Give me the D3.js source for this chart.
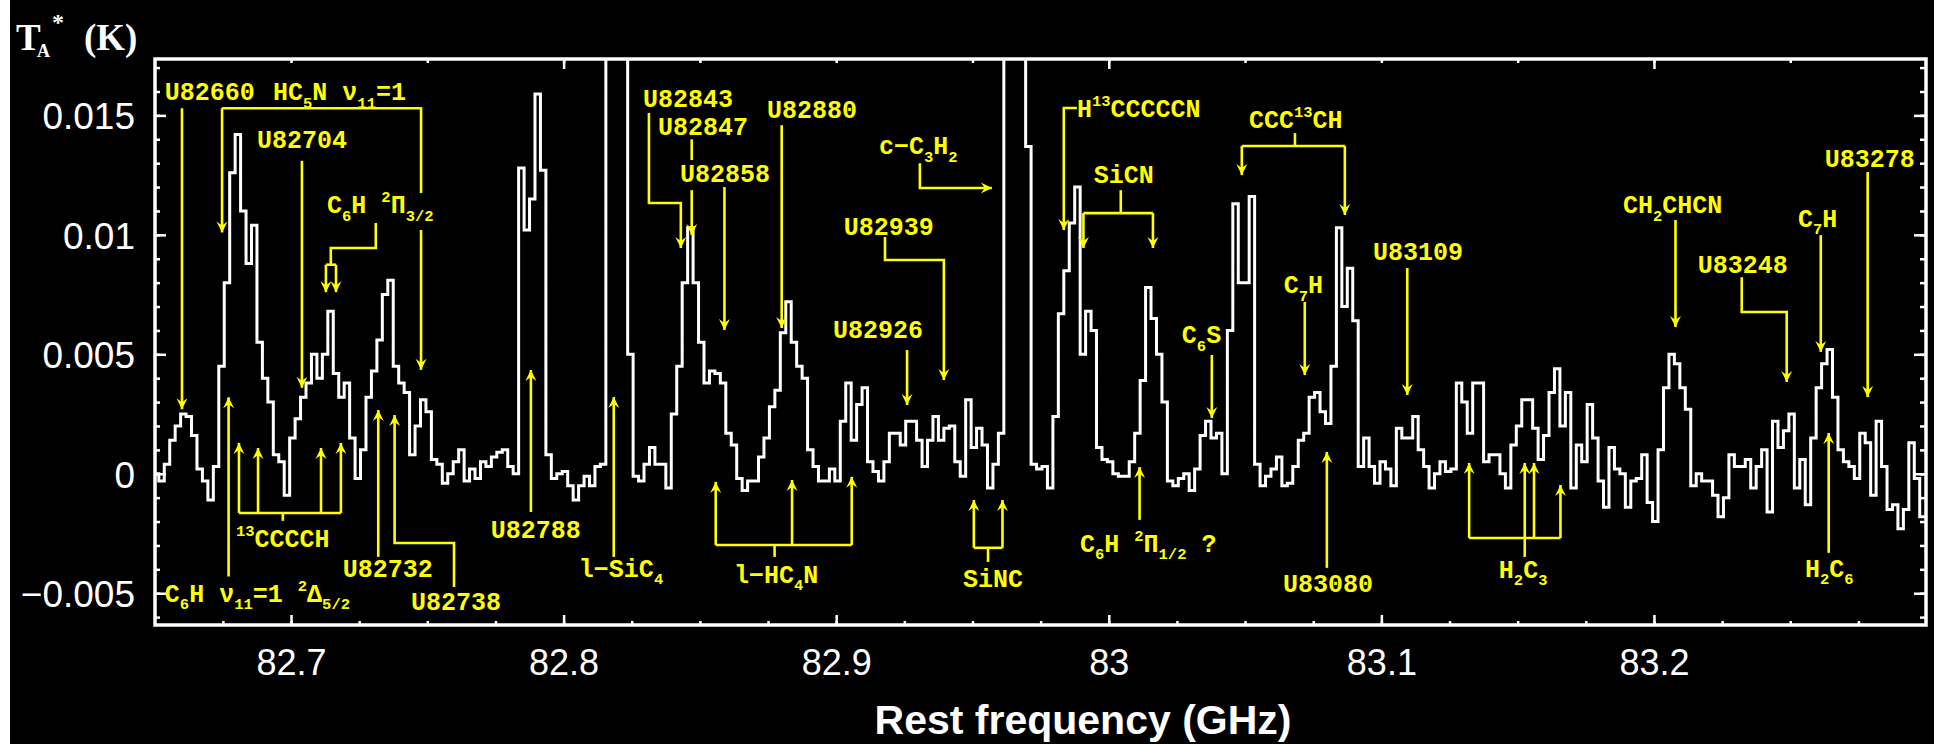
<!DOCTYPE html>
<html>
<head>
<meta charset="utf-8">
<title>Spectrum 82.65 - 83.30 GHz</title>
<script src="https://cdn.jsdelivr.net/npm/d3@7/dist/d3.min.js"></script>
<style>
  html, body { margin: 0; padding: 0; background: #000; overflow: hidden; }
  svg { display: block; }
  text { white-space: pre; }
</style>
</head>
<body>
<svg id="Spectrum"></svg>
<script>
'use strict';

// frequency grid of the spectrum
const freqStart = 82.6495;   // GHz, left edge of first channel
const chanWidth = 0.002;     // GHz per channel

// T_A* per channel in mK (the two off-scale lines are set to 60)
const intensity = [
    0.0, -0.3, 0.4, 1.4, 2.0, 2.5, 2.4, 1.6, 0.2, -0.3,
    -1.1, 0.3, 4.5, 8.0, 12.6, 14.2, 11.0, 8.8, 10.4, 5.5,
    4.0, 3.0, 0.8, 0.5, -0.9, 1.5, 2.3, 3.2, 3.8, 5.0,
    4.0, 5.0, 6.8, 4.2, 3.2, 3.8, 1.5, -0.2, 1.0, 3.2,
    4.3, 5.6, 7.5, 8.1, 4.5, 3.8, 3.4, 0.8, 2.0, 3.1,
    2.6, 0.6, 0.4, -0.4, 0.0, 0.5, 1.0, -0.3, 0.2, -0.2,
    0.5, 0.3, 0.7, 0.9, 1.0, 0.3, 0.0, 12.8, 10.2, 11.5,
    15.9, 12.7, 0.8, -0.2, 0.0, 0.1, -0.5, -1.1, -0.5, -0.1,
    -0.5, 0.3, 0.4, 60, 60, 60, 60, 5.0, -0.1, -0.3,
    0.4, 1.1, 0.4, 0.4, -0.6, 2.5, 4.5, 8.0, 10.3, 8.0,
    5.5, 3.8, 4.3, 4.2, 3.8, 1.7, 1.2, -0.2, -0.7, -0.3,
    -0.3, 0.7, 1.5, 2.8, 3.5, 5.9, 7.2, 5.5, 4.5, 4.0,
    1.0, 0.3, -0.3, -0.3, 0.2, -0.3, 2.2, 3.8, 1.4, 2.9,
    3.6, 0.5, 0.1, -0.3, 0.5, 1.7, 1.7, 1.2, 2.2, 2.2,
    1.4, 0.3, 1.4, 2.4, 1.4, 1.9, 2.0, 0.5, -0.1, 3.1,
    1.1, 1.9, 1.2, -0.6, 0.4, 1.7, 60, 60, 60, 60,
    13.7, 0.4, 0.2, 0.3, -0.6, 2.4, 6.7, 8.5, 10.5, 12.0,
    5.0, 6.8, 6.0, 1.1, 0.6, 0.5, 0.0, -0.1, -0.1, 0.5,
    1.7, 3.9, 7.8, 6.5, 5.0, 3.0, -0.3, -0.5, -0.2, 0.0,
    -0.7, 0.2, 1.6, 2.2, 1.5, 1.7, 0.0, 6.0, 11.3, 8.0,
    8.0, 11.6, 0.4, -0.5, -0.1, 0.2, 0.7, -0.5, -0.4, 0.3,
    1.4, 1.7, 3.2, 3.4, 2.6, 2.1, 4.5, 10.3, 7.0, 8.6,
    6.4, 0.3, 1.5, 0.3, -0.4, 0.5, 0.2, -0.5, 1.9, 1.5,
    1.5, 2.4, 1.0, 0.3, -0.6, 0.0, 0.5, 0.1, 0.2, 3.8,
    3.0, 1.7, 3.8, 3.8, 0.5, 0.8, 0.8, 0.0, -0.6, 1.2,
    2.0, 3.1, 3.1, 1.9, 0.6, 1.6, 3.4, 4.4, 2.0, 3.4,
    -0.6, 1.2, 0.5, 2.9, 1.5, -0.3, -1.4, 1.1, 0.2, 0.0,
    -1.4, -0.3, -0.2, 0.8, -1.2, -2.0, 1.0, 3.6, 5.0, 4.6,
    3.6, 2.7, -0.5, 0.0, -0.3, -0.3, -0.9, -1.8, -1.0, 0.8,
    0.3, 0.3, 0.6, -0.6, 0.3, 1.0, -1.6, 2.2, 1.1, 1.8,
    2.5, -0.6, 0.6, -1.3, 1.5, 3.6, 4.6, 5.2, 3.2, 1.0,
    0.5, 0.3, -0.2, 1.7, 1.3, -0.9, 2.2, 0.3, -1.5, -1.3,
    -2.3, -1.5, 1.3, -0.2, -1.8
];

const xMajorTicks = [82.7, 82.8, 82.9, 83.0, 83.1, 83.2];
const xTickLabels = ["82.7", "82.8", "82.9", "83", "83.1", "83.2"];
const yMajorTicks = [-0.005, 0, 0.005, 0.01, 0.015];
const yTickLabels = ["\u22120.005", "0", "0.005", "0.01", "0.015"];

// line identifications, all points in (GHz, mK)
// "at" = start of label baseline, "lines" = plain leaders, "arrows" = leaders ending in an arrow head
const lineLabels = [
    { text: "U82660", at: [82.6537, 15.64], arrows: [[[82.660, 15.3], [82.660, 2.7]]] },
    { text: "HC_5N ν_{11}=1", at: [82.6934, 15.64],
      lines: [[[82.6747, 15.3], [82.7477, 15.3], [82.7477, 11.75]]],
      arrows: [[[82.6747, 15.3], [82.6747, 10.1]], [[82.7477, 10.2], [82.7477, 4.35]]] },
    { text: "U82704", at: [82.6875, 13.63], arrows: [[[82.704, 13.1], [82.704, 3.6]]] },
    { text: "C_6H ^2Π_{3/2}", at: [82.7132, 10.91],
      lines: [[[82.7311, 10.5], [82.7311, 9.45], [82.7146, 9.45], [82.7146, 8.75]], [[82.7128, 8.75], [82.7165, 8.75]]],
      arrows: [[[82.7128, 8.75], [82.7128, 7.6]], [[82.7165, 8.75], [82.7165, 7.6]]] },
    { text: "C_6H ν_{11}=1 ^2Δ_{5/2}", at: [82.6537, -5.36], arrows: [[[82.6771, -4.3], [82.6771, 3.2]]] },
    { text: "^{13}CCCCH", at: [82.6798, -3.06],
      lines: [[[82.6809, -1.64], [82.7183, -1.64]], [[82.6970, -1.64], [82.6970, -1.97]]],
      arrows: [[[82.6809, -1.64], [82.6809, 1.29]], [[82.6879, -1.64], [82.6879, 1.08]],
               [[82.7110, -1.64], [82.7110, 1.08]], [[82.7183, -1.64], [82.7183, 1.29]]] },
    { text: "U82732", at: [82.7190, -4.32], arrows: [[[82.732, -3.48], [82.732, 2.67]]] },
    { text: "U82738", at: [82.7440, -5.70], arrows: [[[82.7598, -4.74], [82.7598, -2.9], [82.738, -2.9], [82.738, 2.46]]] },
    { text: "U82788", at: [82.7733, -2.69], arrows: [[[82.788, -1.6], [82.788, 4.34]]] },
    { text: "l−SiC_4", at: [82.8056, -4.32], arrows: [[[82.8184, -3.48], [82.8184, 3.21]]] },
    { text: "l−HC_4N", at: [82.8625, -4.57],
      lines: [[[82.8558, -2.98], [82.9057, -2.98]], [[82.8774, -2.98], [82.8774, -3.48]]],
      arrows: [[[82.8558, -2.98], [82.8558, -0.34]], [[82.8838, -2.98], [82.8838, -0.26]], [[82.9057, -2.98], [82.9057, -0.13]]] },
    { text: "SiNC", at: [82.9465, -4.74],
      lines: [[[82.9505, -3.1], [82.961, -3.1]], [[82.9557, -3.1], [82.9557, -3.69]]],
      arrows: [[[82.9505, -3.1], [82.9505, -1.1]], [[82.961, -3.1], [82.961, -1.1]]] },
    { text: "U82843", at: [82.8291, 15.35], arrows: [[[82.8313, 15.1], [82.8313, 11.33], [82.843, 11.33], [82.843, 9.45]]] },
    { text: "U82847", at: [82.8346, 14.18], lines: [[[82.847, 14.0], [82.847, 13.13]]], arrows: [[[82.847, 11.87], [82.847, 9.99]]] },
    { text: "U82858", at: [82.8427, 12.21], arrows: [[[82.859, 12.0], [82.859, 6.02]]] },
    { text: "U82880", at: [82.8746, 14.89], arrows: [[[82.880, 14.59], [82.880, 6.1]]] },
    { text: "c−C_3H_2", at: [82.9157, 13.38], arrows: [[[82.9307, 13.0], [82.9307, 11.96], [82.9571, 11.96]]] },
    { text: "U82939", at: [82.9028, 9.99], arrows: [[[82.9179, 9.91], [82.9179, 8.95], [82.9395, 8.95], [82.9395, 3.92]]] },
    { text: "U82926", at: [82.8988, 5.68], arrows: [[[82.926, 5.18], [82.926, 2.88]]] },
    { text: "H^{13}CCCCCN", at: [82.9883, 14.92], arrows: [[[82.9883, 15.31], [82.9835, 15.31], [82.9835, 10.2]]] },
    { text: "SiCN", at: [82.9945, 12.17],
      lines: [[[83.0044, 11.87], [83.0044, 10.91]], [[82.9907, 10.91], [83.0162, 10.91]]],
      arrows: [[[82.9907, 10.91], [82.9907, 9.45]], [[83.0162, 10.91], [83.0162, 9.45]]] },
    { text: "CCC^{13}CH", at: [83.0514, 14.46],
      lines: [[[83.0683, 14.26], [83.0683, 13.72]], [[83.0488, 13.72], [83.0866, 13.72]]],
      arrows: [[[83.0488, 13.72], [83.0488, 12.5]], [[83.0866, 13.72], [83.0866, 10.83]]] },
    { text: "C_7H", at: [83.0642, 7.56], arrows: [[[83.0719, 7.19], [83.0719, 4.13]]] },
    { text: "U83109", at: [83.0969, 8.95], arrows: [[[83.1095, 8.61], [83.1095, 3.3]]] },
    { text: "C_6S", at: [83.0268, 5.47], arrows: [[[83.0378, 4.97], [83.0378, 2.33]]] },
    { text: "C_6H ^2Π_{1/2} ?", at: [82.9894, -3.27], arrows: [[[83.0113, -1.93], [83.0113, 0.28]]] },
    { text: "U83080", at: [83.0639, -4.95], arrows: [[[83.080, -3.94], [83.080, 0.91]]] },
    { text: "H_2C_3", at: [83.1431, -4.36],
      lines: [[[83.1322, -2.69], [83.1657, -2.69]], [[83.1526, -2.69], [83.1526, -3.48]]],
      arrows: [[[83.1322, -2.69], [83.1322, 0.45]], [[83.1526, -2.69], [83.1526, 0.45]],
               [[83.156, -2.69], [83.156, 0.45]], [[83.1657, -2.69], [83.1657, -0.47]]] },
    { text: "CH_2CHCN", at: [83.1886, 10.91], arrows: [[[83.2079, 10.62], [83.2079, 6.14]]] },
    { text: "U83248", at: [83.2161, 8.4], arrows: [[[83.2322, 8.23], [83.2322, 6.77], [83.2487, 6.77], [83.2487, 3.84]]] },
    { text: "C_7H", at: [83.2528, 10.33], arrows: [[[83.2612, 9.99], [83.2612, 5.1]]] },
    { text: "U83278", at: [83.2627, 12.84], arrows: [[[83.2784, 12.63], [83.2784, 3.21]]] },
    { text: "H_2C_6", at: [83.2554, -4.32], arrows: [[[83.2641, -3.31], [83.2641, 1.71]]] }
];

const yellow = "#ffff00";
const labelFont = "'Liberation Mono', 'DejaVu Sans Mono', monospace";
const tickFont = "'Liberation Sans', Arial, sans-serif";

function getChartConfig() {
    let margin = { top: 59, right: 8, bottom: 119, left: 155 },
        width = 1934 - margin.left - margin.right,
        height = 744 - margin.top - margin.bottom;

    let svg = d3.select("#Spectrum")
        .attr("width", width + margin.left + margin.right)
        .attr("height", height + margin.top + margin.bottom);

    svg.append("rect")
        .attr("width", width + margin.left + margin.right)
        .attr("height", height + margin.top + margin.bottom)
        .attr("fill", "#000");

    // white strip at the left edge of the scanned figure
    svg.append("rect")
        .attr("x", 0).attr("y", 0)
        .attr("width", 10).attr("height", height + margin.top + margin.bottom)
        .attr("fill", "#fff");

    let container = svg.append("g")
        .attr("transform", "translate(" + margin.left + "," + margin.top + ")");

    return { svg, width, height, container, margin };
}

function getScales(config) {
    let { width, height } = config;
    let xScale = d3.scaleLinear().domain([82.6501, 83.2998]).range([0, width]);
    let yScale = d3.scaleLinear().domain([-0.00633, 0.01736]).range([height, 0]);
    return { xScale, yScale };
}

function styleTicks(g) {
    g.select(".domain").remove();
    g.selectAll(".tick line").attr("stroke", "#fff").attr("stroke-width", 2.5);
}

function drawAxes(config, scales) {
    let { container, width, height, svg } = config;
    let { xScale, yScale } = scales;

    let xMinor = d3.range(82.675, 83.29, 0.025);
    let xTop = d3.range(82.7, 83.29, 0.05);
    let xTopMajor = [82.8, 83.0, 83.2];
    let yMinor = d3.range(-6, 18).map(d => d / 1000);

    // bottom
    container.append("g")
        .attr("transform", "translate(0," + height + ")")
        .call(d3.axisBottom(xScale).tickValues(xMinor).tickSize(-4).tickFormat(""))
        .call(styleTicks);

    container.append("g")
        .attr("transform", "translate(0," + height + ")")
        .call(d3.axisBottom(xScale).tickValues(xMajorTicks).tickSize(-10)
            .tickFormat((d, i) => xTickLabels[i]))
        .call(styleTicks)
        .selectAll("text")
        .attr("y", 50).attr("dy", null)
        .attr("fill", "#fff")
        .style("font-family", tickFont)
        .style("font-size", "36px");

    // top
    container.append("g")
        .call(d3.axisTop(xScale).tickValues(xTop).tickSize(-4).tickFormat(""))
        .call(styleTicks);
    container.append("g")
        .call(d3.axisTop(xScale).tickValues(xTopMajor).tickSize(-10).tickFormat(""))
        .call(styleTicks);

    // left
    container.append("g")
        .call(d3.axisLeft(yScale).tickValues(yMinor).tickSize(-5).tickFormat(""))
        .call(styleTicks);

    container.append("g")
        .call(d3.axisLeft(yScale).tickValues(yMajorTicks).tickSize(-11)
            .tickFormat((d, i) => yTickLabels[i]))
        .call(styleTicks)
        .selectAll("text")
        .attr("x", -20).attr("dy", "0.36em")
        .attr("fill", "#fff")
        .style("font-family", tickFont)
        .style("font-size", "37px");

    // right
    container.append("g")
        .attr("transform", "translate(" + width + ",0)")
        .call(d3.axisRight(yScale).tickValues(yMinor).tickSize(-6).tickFormat(""))
        .call(styleTicks);
    container.append("g")
        .attr("transform", "translate(" + width + ",0)")
        .call(d3.axisRight(yScale).tickValues(yMajorTicks).tickSize(-12).tickFormat(""))
        .call(styleTicks);

    // frame
    container.append("rect")
        .attr("width", width).attr("height", height)
        .attr("fill", "none")
        .attr("stroke", "#fff")
        .attr("stroke-width", 3.5);

    // axis titles
    container.append("text")
        .attr("x", 928).attr("y", 675)
        .attr("text-anchor", "middle")
        .attr("fill", "#fff")
        .style("font-family", tickFont)
        .style("font-weight", "bold")
        .style("font-size", "41px")
        .text("Rest frequency (GHz)");

    let serif = "'Liberation Serif', 'DejaVu Serif', serif";
    svg.append("text").attr("x", 16).attr("y", 50)
        .attr("fill", "#fff").style("font-family", serif).style("font-weight", "bold")
        .style("font-size", "37px").text("T");
    svg.append("text").attr("x", 37).attr("y", 57)
        .attr("fill", "#fff").style("font-family", serif).style("font-weight", "bold")
        .style("font-size", "18px").text("A");
    svg.append("text").attr("x", 52).attr("y", 30)
        .attr("fill", "#fff").style("font-family", serif).style("font-weight", "bold")
        .style("font-size", "24px").text("*");
    svg.append("text").attr("x", 84).attr("y", 50)
        .attr("fill", "#fff").style("font-family", serif).style("font-weight", "bold")
        .style("font-size", "37px").text("(K)");
}

function drawSpectrum(config, scales) {
    let { container, width, height } = config;
    let { xScale, yScale } = scales;

    let points = intensity.map((v, i) => [freqStart + i * chanWidth, v / 1000]);
    // close the last channel
    points.push([freqStart + intensity.length * chanWidth, intensity[intensity.length - 1] / 1000]);

    container.append("clipPath")
        .attr("id", "plotClip")
        .append("rect")
        .attr("width", width)
        .attr("height", height);

    let line = d3.line()
        .x(d => xScale(d[0]))
        .y(d => yScale(d[1]))
        .curve(d3.curveStepAfter);

    container.append("path")
        .datum(points)
        .attr("clip-path", "url(#plotClip)")
        .attr("d", line)
        .attr("fill", "none")
        .attr("stroke", "#fff")
        .attr("stroke-width", 3);
}

// text with _x / _{..} subscripts and ^x / ^{..} superscripts
function richText(textSel, str, size) {
    let re = /([_^])(?:\{([^}]*)\}|(.))|([^_^]+)/g;
    let m, shift = 0;
    while ((m = re.exec(str)) !== null) {
        let content, off = 0, fs = size;
        if (m[4] !== undefined) {
            content = m[4];
        } else {
            content = m[2] !== undefined ? m[2] : m[3];
            fs = size * 0.62;
            off = m[1] === "_" ? size * 0.3 : -size * 0.45;
        }
        textSel.append("tspan")
            .attr("dy", off - shift)
            .style("font-size", fs + "px")
            .text(content);
        shift = off;
    }
}

function drawLineLabels(config, scales) {
    let { container } = config;
    let { xScale, yScale } = scales;
    let px = p => [xScale(p[0]), yScale(p[1] / 1000)];
    let path = d3.line();

    let g = container.append("g").attr("class", "ids");

    lineLabels.forEach(lab => {
        let [tx, ty] = px(lab.at);
        let t = g.append("text")
            .attr("x", tx).attr("y", ty)
            .attr("fill", yellow)
            .style("font-family", labelFont)
            .style("font-weight", "bold")
            .style("font-size", "25px");
        richText(t, lab.text, 25);

        (lab.lines || []).forEach(pts => {
            g.append("path")
                .attr("d", path(pts.map(px)))
                .attr("fill", "none")
                .attr("stroke", yellow)
                .attr("stroke-width", 2.6);
        });

        (lab.arrows || []).forEach(pts => {
            let p = pts.map(px);
            g.append("path")
                .attr("d", path(p))
                .attr("fill", "none")
                .attr("stroke", yellow)
                .attr("stroke-width", 2.6);
            let a = p[p.length - 1], b = p[p.length - 2];
            let ang = Math.atan2(a[1] - b[1], a[0] - b[0]) * 180 / Math.PI - 90;
            g.append("path")
                .attr("d", "M0,0L-5.5,-11L0,-7L5.5,-11Z")
                .attr("transform", "translate(" + a[0] + "," + a[1] + ") rotate(" + ang + ")")
                .attr("fill", yellow);
        });
    });
}

function drawChart() {
    let config = getChartConfig();
    let scales = getScales(config);
    drawSpectrum(config, scales);
    drawAxes(config, scales);
    drawLineLabels(config, scales);
}

drawChart();
</script>
</body>
</html>
